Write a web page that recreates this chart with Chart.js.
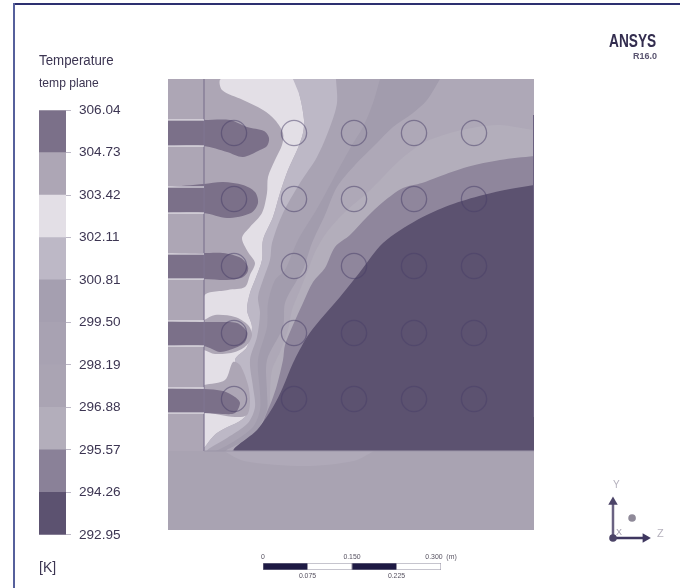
<!DOCTYPE html>
<html>
<head>
<meta charset="utf-8">
<title>Temperature</title>
<script src="https://cdn.jsdelivr.net/npm/chart.js@4"></script>
<style>
  body { margin: 0; background: #fff; }
  #page { position: relative; width: 680px; height: 588px; overflow: hidden; filter: blur(0.45px); font-family: "Liberation Sans", Arial, sans-serif; color: #3c3552; }
  #page canvas { position: absolute; }
  #page div { position: absolute; white-space: nowrap; }
</style>
</head>
<body>
<div id="page">
  <div style="left:14px;top:3px;width:666px;height:2px;background:#2d3070"></div>
  <div style="left:13px;top:3px;width:2px;height:585px;background:#56609c"></div>
  <div style="left:39px;top:52px;font-size:14px;transform:scaleX(.95);transform-origin:left top">Temperature</div>
  <div style="left:39px;top:76px;font-size:12.6px;transform:scaleX(.96);transform-origin:left top">temp plane</div>
  <div style="left:39px;top:559px;font-size:14px">[K]</div>
  <div style="left:609px;top:31px;font-size:18px;font-weight:bold;transform:scaleX(.76);transform-origin:left top;color:#332d4f">ANSYS</div>
  <div style="left:633px;top:50px;font-size:9.5px;font-weight:bold;transform:scaleX(.95);transform-origin:left top;color:#5a5470">R16.0</div>
  <div style="left:613px;top:479px;font-size:10px;color:#b5b1bd">Y</div>
  <div style="left:657px;top:527px;font-size:11px;color:#b5b1bd">Z</div>
  <div style="left:616px;top:527px;font-size:9px;color:#a09bab">X</div>
  <canvas id="legend-bar" width="110" height="457" style="left:39px;top:94px"></canvas>
  <canvas id="plane" width="366" height="451" style="left:168px;top:79px"></canvas>
  <canvas id="scale-bar" width="220" height="44" style="left:243px;top:544px"></canvas>
  <canvas id="triad" width="60" height="60" style="left:600px;top:490px"></canvas>
</div>
<script>
// colour legend, K
const levels = [292.95, 294.26, 295.57, 296.88, 298.19, 299.50, 300.81, 302.11, 303.42, 304.73, 306.04];
const levelColors = ['#5c5270', '#8a8198', '#b3aebb', '#aaa4b3', '#a8a2b2', '#a59fb0', '#bdb8c6', '#e3dfe6', '#ada6b5', '#7b7089'];

// scale bar, m
const scaleStops = [0, 0.075, 0.15, 0.225, 0.3];
const scaleTopTicks = [0, 0.15, 0.3];
const scaleBottomTicks = [0.075, 0.225];

// tube centres, plane units (1 unit is about 1.7 mm, origin at the inner corner)
const tubeX = [30, 90, 150, 210, 270];
const tubeY = [318, 252, 185, 118, 52];

// inlet slots on the left wall
const slotTop = [331, 264, 197, 130, 63];
const slotBottom = [305, 238, 172, 105, 38];

// contour edges, each [x, y], running from the top or right side down to the floor
const edge302 = [[89,372],[96,354],[100,331],[99,318],[94,303],[84,281],[76,258],[69,234],[59,211],[58,191],[51,171],[46,158],[43,141],[48,124],[43,104],[31,91],[38,71],[44,51],[41,34],[13,18],[1,4],[1,0]];
const edge300 = [[132,372],[133,348],[126,324],[113,294],[96,268],[79,238],[68,208],[66,191],[59,171],[54,154],[56,138],[53,114],[46,91],[49,64],[51,44],[44,28],[23,13],[6,3],[3,0]];
const edge299 = [[176,372],[169,348],[159,324],[148,306],[133,279],[114,244],[94,211],[81,181],[71,171],[64,148],[63,124],[54,91],[56,58],[56,41],[49,24],[29,9],[14,1],[12,0]];
const edge298 = [[236,372],[223,351],[209,338],[189,324],[173,308],[151,286],[133,264],[121,236],[108,208],[99,181],[93,171],[81,148],[79,124],[63,91],[63,58],[63,41],[53,21],[36,8],[23,0]];
const edge296 = [[330,321],[296,326],[273,324],[246,318],[219,308],[196,291],[179,274],[163,258],[141,239],[123,219],[111,199],[104,181],[96,161],[88,141],[84,121],[76,99],[68,81],[66,56],[66,39],[56,19],[41,6],[31,0]];
const edge295 = [[330,295],[296,291],[263,284],[234,274],[218,268],[199,263],[179,249],[163,234],[146,216],[131,204],[121,183],[109,169],[99,148],[89,126],[81,106],[79,91],[73,66],[68,51],[63,39],[54,18],[44,6],[29,0]];
const edge294 = [[330,266],[306,262],[279,256],[246,246],[213,231],[179,208],[156,179],[136,154],[116,131],[103,114],[89,88],[79,64],[69,44],[53,21],[31,0]];

// warm patches next to the wall
const warmEdge = [[1,4],[0,4],[0,154],[24,161],[41,164],[46,176],[51,188],[44,199],[38,213],[46,224],[58,238],[63,258],[64,274],[71,291],[78,306],[79,318],[71,331],[59,341],[39,351],[18,361],[17,372]];
const halo4 = [[0,131],[11,136],[31,134],[44,126],[48,116],[43,106],[31,99],[11,97],[0,101]];
const halo5 = [[0,66],[21,71],[29,89],[36,86],[44,66],[46,49],[43,36],[31,34],[0,39]];
const floorArc = [[20,0],[40,-10],[100,-15],[150,-10],[170,0]];

// hot jets coming through the slots
const jet1 = [[-36,331],[0,331],[26,331],[43,324],[60,320],[65,313],[63,305],[56,301],[39,294],[23,299],[0,305],[-36,305]];
const jet2 = [[-36,264],[0,267],[19,269],[39,266],[51,259],[54,248],[47,238],[23,233],[0,238],[-36,238]];
const jet3 = [[-36,197],[0,198],[19,198],[37,193],[44,184],[43,178],[37,173],[23,171],[0,172],[-36,172]];
const jet4 = [[-36,130],[0,129],[14,129],[33,128],[43,119],[41,109],[31,103],[16,99],[0,105],[-36,105]];
const jet5 = [[-36,63],[0,62],[19,60],[31,54],[36,48],[31,38],[19,37],[0,38],[-36,38]];

// plane limits
const planeLeft = -36, planeRight = 330, planeBottom = -79, planeTop = 372;

function toPoints(list) {
  return list.map(([x, y]) => ({ x, y }));
}

function box(x0, y0, x1, y1) {
  return [[x0, y0], [x1, y0], [x1, y1], [x0, y1]];
}

// everything to the right of a contour edge
function rightOf(edge) {
  return edge.concat([[planeRight, 0], [planeRight, planeTop]]);
}

function drawLegend() {
  const datasets = levelColors.map((color, i) => ({
    data: [[levels[i], levels[i + 1]]],
    backgroundColor: color,
    barPercentage: 1,
    categoryPercentage: 1,
    grouped: false,
  }));
  new Chart(document.getElementById('legend-bar'), {
    type: 'bar',
    data: { labels: ['T'], datasets },
    options: {
      responsive: false,
      animation: false,
      layout: { autoPadding: false },
      plugins: { legend: { display: false }, tooltip: { enabled: false } },
      scales: {
        x: { display: false },
        y: {
          position: 'right',
          min: levels[0],
          max: levels[levels.length - 1],
          afterBuildTicks: (axis) => { axis.ticks = levels.map((value) => ({ value })); },
          afterFit: (axis) => { axis.width = 83; },
          border: { display: false },
          grid: { drawOnChartArea: false, tickLength: 5, color: '#bdb9c6' },
          ticks: {
            padding: 8,
            autoSkip: false,
            color: '#3c3552',
            font: { family: 'Liberation Sans', size: 13.6 },
            callback: (value) => value.toFixed(2),
          },
        },
      },
    },
  });
}

function drawPlane() {
  // painted back to front
  const layers = [
    { points: box(planeLeft, 0, planeRight, planeTop), color: '#ada6b5', flat: true },
    { points: warmEdge.concat(edge302), color: '#e3dfe6' },
    { points: rightOf(edge302), color: '#bdb8c6' },
    { points: rightOf(edge300), color: '#a9a3b3' },
    { points: rightOf(edge299), color: '#a29cad' },
    { points: rightOf(edge298), color: '#aea8b7' },
    { points: rightOf(edge296), color: '#b3aebb' },
    { points: rightOf(edge295), color: '#8f869c' },
    { points: rightOf(edge294), color: '#5c5270' },
    // covers the little overshoot of the smoothed edges
    { points: box(planeLeft, 0, 0, planeTop), color: '#ada6b5', flat: true },
    { points: box(planeLeft, planeBottom, planeRight, 0), color: '#a9a3b2', flat: true },
    { points: floorArc, color: '#afa9b8' },
    { points: halo4, color: '#ada6b5' },
    { points: halo5, color: '#ada6b5' },
    { points: jet1, color: '#7b7089' },
    { points: jet2, color: '#7b7089' },
    { points: jet3, color: '#7b7089' },
    { points: jet4, color: '#7b7089' },
    { points: jet5, color: '#7b7089' },
  ];

  const datasets = layers.map((layer) => ({
    data: toPoints(layer.points),
    showLine: true,
    fill: 'shape',
    tension: layer.flat ? 0 : 0.3,
    backgroundColor: layer.color,
    borderWidth: 0,
    pointRadius: 0,
  }));

  // wall lines
  const walls = [
    { points: [[0, planeTop], [0, 0]], color: '#7f7591', width: 1.2 },
    { points: [[0, 0], [planeRight, 0]], color: '#9c95a8', width: 1.2 },
    { points: [[planeRight, 336], [planeRight, 34]], color: '#6a6080', width: 2 },
  ];
  slotTop.concat(slotBottom).forEach((y) => {
    walls.push({ points: [[planeLeft, y], [0, y]], color: '#f2f0f4', width: 1 });
  });
  walls.forEach((wall) => {
    datasets.push({
      data: toPoints(wall.points),
      showLine: true,
      fill: false,
      borderColor: wall.color,
      borderWidth: wall.width,
      pointRadius: 0,
    });
  });

  // tube outlines
  const tubes = [];
  tubeY.forEach((y) => tubeX.forEach((x) => tubes.push({ x, y })));
  datasets.push({
    data: tubes,
    showLine: false,
    pointRadius: 12.6,
    pointBackgroundColor: 'rgba(0,0,0,0)',
    pointBorderColor: 'rgba(72,62,104,0.5)',
    pointBorderWidth: 1.3,
  });

  // first dataset has to land at the back
  datasets.forEach((d, i) => { d.order = datasets.length - i; });

  new Chart(document.getElementById('plane'), {
    type: 'scatter',
    data: { datasets },
    options: {
      responsive: false,
      animation: false,
      layout: { autoPadding: false },
      plugins: { legend: { display: false }, tooltip: { enabled: false } },
      scales: {
        x: { type: 'linear', display: false, min: planeLeft, max: planeRight },
        y: { type: 'linear', display: false, min: planeBottom, max: planeTop },
      },
    },
  });
}

function drawScaleBar() {
  const datasets = scaleStops.slice(1).map((stop, i) => ({
    data: [[scaleStops[i], stop]],
    backgroundColor: i % 2 === 0 ? '#1e1a44' : '#ffffff',
    borderColor: '#8d8a9c',
    borderWidth: 0.8,
    borderSkipped: false,
    barPercentage: 1,
    categoryPercentage: 1,
    grouped: false,
    xAxisID: 'x',
  }));
  // empty set so the second axis gets built
  datasets.push({ data: [], xAxisID: 'x2' });

  const tickFont = { family: 'Liberation Sans', size: 6.9 };
  new Chart(document.getElementById('scale-bar'), {
    type: 'bar',
    data: { labels: ['m'], datasets },
    options: {
      indexAxis: 'y',
      responsive: false,
      animation: false,
      layout: { autoPadding: false, padding: { left: 20, right: 22 } },
      plugins: { legend: { display: false }, tooltip: { enabled: false } },
      scales: {
        y: { display: false },
        x: {
          position: 'top',
          min: 0,
          max: 0.3,
          afterBuildTicks: (axis) => { axis.ticks = scaleTopTicks.map((value) => ({ value })); },
          afterFit: (axis) => { axis.height = 19; },
          border: { display: false },
          grid: { display: false, drawTicks: false },
          ticks: {
            autoSkip: false,
            maxRotation: 0,
            padding: 2,
            color: '#55505f',
            font: tickFont,
            callback: (value) => (value === 0 ? '0' : value === 0.3 ? '0.300  (m)' : value.toFixed(3)),
          },
        },
        x2: {
          position: 'bottom',
          min: 0,
          max: 0.3,
          afterBuildTicks: (axis) => { axis.ticks = scaleBottomTicks.map((value) => ({ value })); },
          afterFit: (axis) => { axis.height = 18; },
          border: { display: false },
          grid: { display: false, drawTicks: false },
          ticks: {
            autoSkip: false,
            maxRotation: 0,
            padding: 2,
            color: '#55505f',
            font: tickFont,
            callback: (value) => value.toFixed(3),
          },
        },
      },
    },
  });
}

function drawTriad() {
  new Chart(document.getElementById('triad'), {
    type: 'scatter',
    data: {
      datasets: [
        { data: [{ x: 0, y: 0 }], pointRadius: 3.8, pointBackgroundColor: '#4c4468', pointBorderWidth: 0 },
        { data: [{ x: 0.53, y: 0.5 }], pointRadius: 3.8, pointBackgroundColor: '#8f8a99', pointBorderWidth: 0 },
        {
          data: [{ x: 0, y: 0 }, { x: 0, y: 0.9 }],
          showLine: true,
          borderColor: '#6a6282',
          borderWidth: 2.5,
          pointRadius: [0, 5.5],
          pointStyle: 'triangle',
          pointBackgroundColor: '#4c4468',
          pointBorderWidth: 0,
        },
        {
          data: [{ x: 0, y: 0 }, { x: 0.9, y: 0 }],
          showLine: true,
          borderColor: '#3f3760',
          borderWidth: 2.5,
          pointRadius: [0, 5.5],
          pointStyle: 'triangle',
          pointRotation: 90,
          pointBackgroundColor: '#3f3760',
          pointBorderWidth: 0,
        },
      ],
    },
    options: {
      responsive: false,
      animation: false,
      layout: { autoPadding: false },
      plugins: { legend: { display: false }, tooltip: { enabled: false } },
      scales: {
        x: { type: 'linear', display: false, min: -0.361, max: 1.306 },
        y: { type: 'linear', display: false, min: -0.3, max: 1.2 },
      },
    },
  });
}

drawLegend();
drawPlane();
drawScaleBar();
drawTriad();
</script>
</body>
</html>
